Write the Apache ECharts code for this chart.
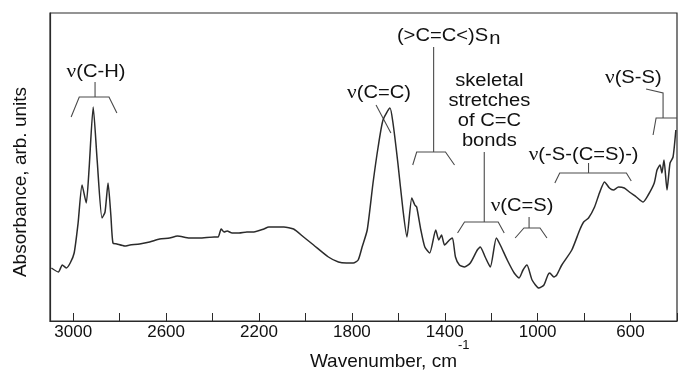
<!DOCTYPE html>
<html>
<head>
<meta charset="utf-8">
<script src="https://cdn.jsdelivr.net/npm/echarts@6/dist/echarts.min.js"></script>
<style>
  html, body { margin: 0; padding: 0; background: #fff; }
  #chart { width: 680px; height: 373px; }
</style>
</head>
<body>
<div id="chart"></div>
<script>
// spectrum: wavenumber (cm-1) and absorbance (arb. units)
const wavenumbers = [
  3094, 3064, 3047, 3030, 3013, 2996, 2979, 2962, 2944, 2932,
  2914, 2897, 2876, 2863, 2850, 2838, 2829, 2812, 2778, 2756,
  2714, 2671, 2628, 2585, 2551, 2500, 2457, 2393, 2376, 2363,
  2350, 2337, 2316, 2286, 2252, 2222, 2179, 2158, 2123, 2093,
  2051, 2008, 1965, 1901, 1858, 1824, 1794, 1773, 1756, 1734,
  1709, 1687, 1666, 1636, 1623, 1602, 1580, 1563, 1542, 1529,
  1521, 1503, 1486, 1465, 1439, 1426, 1414, 1401, 1380, 1367,
  1354, 1337, 1315, 1290, 1260, 1247, 1226, 1204, 1178, 1161,
  1131, 1101, 1080, 1063, 1046, 1024, 995, 973, 956, 948,
  930, 918, 896, 853, 819, 802, 781, 755, 734, 712,
  691, 674, 652, 627, 605, 575, 546, 524, 498, 486,
  473, 465, 456, 443, 430, 417, 405
];
const absorbance = [
  53, 49, 56, 53, 58, 68, 98, 136, 118, 151,
  214, 161, 103, 109, 138, 106, 78, 77, 75, 76,
  77, 79, 82, 83, 85, 83, 83, 84, 84, 92,
  89, 90, 88, 88, 89, 89, 92, 94, 94, 94,
  92, 84, 76, 64, 59, 58, 58, 61, 74, 91,
  138, 174, 201, 213, 198, 158, 111, 84, 123, 116,
  114, 91, 74, 68, 91, 81, 86, 76, 81, 83,
  64, 56, 54, 58, 71, 74, 64, 54, 83, 76,
  61, 48, 43, 51, 56, 41, 33, 36, 46, 48,
  44, 46, 56, 71, 91, 99, 103, 114, 128, 139,
  133, 131, 134, 133, 129, 124, 119, 126, 138, 151,
  156, 148, 161, 131, 158, 164, 191
];
// labelled ticks on the wavenumber axis
const tickLabels = [3000, 2600, 2200, 1800, 1400, 1000, 600];

// band assignments, anchored in data coordinates [wavenumber, absorbance]
const bandLabels = [
  { text: '{nu|ν}(C-H)', at: [2902, 249] },
  { text: '{nu|ν}(C=C)', at: [1683, 228] },
  { text: 'skeletal\nstretches\nof C=C\nbonds', at: [1208, 210] },
  { text: '{nu|ν}(C=S)', at: [1067, 115] },
  { text: '{nu|ν}(-S-(C=S)-)', at: [802, 166] },
  { text: '{nu|ν}(S-S)', at: [588, 243] }
];
const tinLabel = { text: '(>C=C<)S', sub: 'n', at: [1213, 285] };
const bandLines = [
  [[2906, 239], [2906, 224]],
  [[3009, 204], [2974, 224], [2846, 224], [2812, 208]],
  [[1696, 216], [1632, 188]],
  [[1448, 274], [1448, 169]],
  [[1538, 156], [1521, 169], [1397, 169], [1358, 156]],
  [[1230, 169], [1230, 99]],
  [[1345, 88], [1315, 99], [1170, 99], [1144, 88]],
  [[1037, 104], [1037, 93]],
  [[1097, 83], [1059, 93], [990, 93], [960, 83]],
  [[781, 158], [781, 148]],
  [[926, 138], [905, 148], [618, 148], [597, 140]],
  [[533, 232], [460, 228], [460, 203]],
  [[503, 186], [490, 203], [400, 203]]
];

const chart = echarts.init(document.getElementById('chart'), null, { renderer: 'canvas' });
const sans = 'Liberation Sans, Arial, sans-serif';
const ink = '#2a2a2a';
const textInk = '#111';

chart.setOption({
  animation: false,
  backgroundColor: '#fff',
  grid: {
    left: 50, right: -1, top: 13, bottom: 52,
    show: true, borderColor: ink, borderWidth: 1.2
  },
  xAxis: {
    type: 'value',
    inverse: true,
    min: 400,
    max: 3100,
    interval: 200,
    splitLine: { show: false },
    axisLine: { lineStyle: { color: ink, width: 1.2 } },
    axisTick: { inside: true, length: 8, lineStyle: { color: ink } },
    axisLabel: {
      margin: 3,
      color: textInk,
      fontFamily: sans,
      fontSize: 17,
      formatter: v => (tickLabels.includes(v) ? String(v) : '')
    }
  },
  yAxis: {
    type: 'value',
    min: 0,
    max: 308,
    axisLine: { show: true, lineStyle: { color: ink, width: 1.2 } },
    axisTick: { show: false },
    axisLabel: { show: false },
    splitLine: { show: false }
  },
  series: [{
    type: 'line',
    data: wavenumbers.map((w, i) => [w, absorbance[i]]),
    showSymbol: false,
    smooth: 0.2,
    lineStyle: { color: '#2b2b2b', width: 1.5 }
  }]
});

const px = pt => chart.convertToPixel({ seriesIndex: 0 }, pt);
const textBase = { fill: textInk, fontFamily: sans, fontSize: 18, lineHeight: 20 };
const rich = { nu: { fontFamily: 'Liberation Serif, Times New Roman, serif', fontSize: 19 } };

const graphic = [];
bandLines.forEach(line => {
  graphic.push({
    type: 'polyline', silent: true,
    shape: { points: line.map(px) },
    style: { stroke: '#4a4a4a', lineWidth: 1.1, fill: null }
  });
});
bandLabels.forEach(l => {
  const [x, y] = px(l.at);
  graphic.push({
    type: 'text', silent: true, x, y, scaleX: 1.12,
    style: Object.assign({}, textBase, { text: l.text, rich, align: 'center', verticalAlign: 'middle' })
  });
});
{
  const [x, y] = px(tinLabel.at);
  graphic.push({
    type: 'text', silent: true, x, y, scaleX: 1.12,
    style: Object.assign({}, textBase, { text: tinLabel.text, align: 'right', verticalAlign: 'middle' })
  });
  graphic.push({
    type: 'text', silent: true, x: x + 1, y: y + 3, scaleX: 1.12,
    style: Object.assign({}, textBase, { text: tinLabel.sub, align: 'left', verticalAlign: 'middle' })
  });
}
// axis titles
graphic.push({
  type: 'text', silent: true, x: 457, y: 362,
  style: { text: 'Wavenumber, cm', fill: textInk, fontFamily: sans, fontSize: 19, align: 'right', verticalAlign: 'middle' }
});
graphic.push({
  type: 'text', silent: true, x: 458, y: 345,
  style: { text: '-1', fill: textInk, fontFamily: sans, fontSize: 13, align: 'left', verticalAlign: 'middle' }
});
graphic.push({
  type: 'text', silent: true, x: 21, y: 182, rotation: Math.PI / 2,
  style: { text: 'Absorbance, arb. units', fill: textInk, fontFamily: sans, fontSize: 19, align: 'center', verticalAlign: 'middle' }
});
chart.setOption({ graphic });
</script>
</body>
</html>
